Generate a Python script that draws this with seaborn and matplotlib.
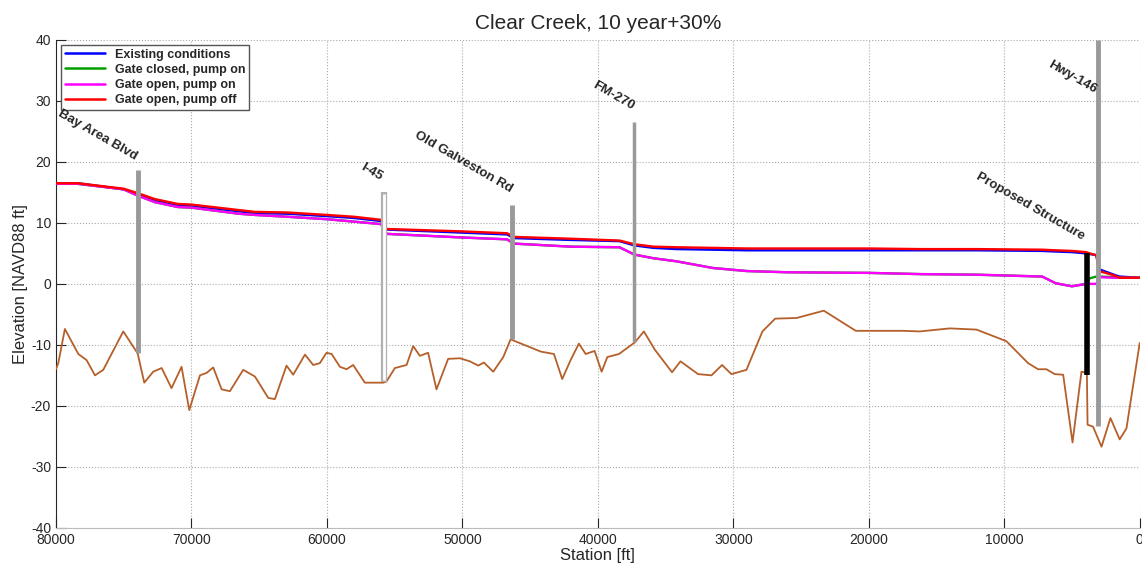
import numpy as np
import pandas as pd
import matplotlib.pyplot as plt
import seaborn as sns

# water surface profiles (station in ft, elevation in ft NAVD88)

ws_station = [80000, 78400, 75000, 74000, 72700, 71000, 70000, 66500, 65300, 62900,
              60000, 58000, 56000, 55600, 50000, 46700, 46200, 42000, 38400, 37300,
              35900, 34200, 31500, 29000, 26000, 20000, 16200, 12000, 7200, 6200,
              5000, 3950, 3700, 3200, 3000, 1900, 1500, 0]

existing = [16.5, 16.5, 15.5, 14.7, 13.7, 12.9, 12.8, 11.9, 11.6, 11.5,
            11.1, 10.8, 10.3, 8.9, 8.4, 8.1, 7.5, 7.2, 7.0, 6.3,
            5.9, 5.7, 5.6, 5.5, 5.5, 5.5, 5.5, 5.5, 5.4, 5.3,
            5.2, 5.0, 4.9, 4.7, 2.4, 1.5, 1.2, 1.0]

gate_closed_pump_on = [16.4, 16.4, 15.5, 14.5, 13.4, 12.6, 12.5, 11.5, 11.3, 11.0,
                       10.6, 10.2, 9.8, 8.2, 7.6, 7.3, 6.6, 6.1, 6.0, 4.8,
                       4.2, 3.7, 2.6, 2.1, 1.9, 1.8, 1.6, 1.5, 1.2, 0.1,
                       -0.4, 0.0, 0.9, 1.2, 1.2, 1.1, 1.0, 1.0]

gate_open_pump_on = [16.4, 16.4, 15.5, 14.5, 13.4, 12.6, 12.5, 11.5, 11.3, 11.0,
                     10.6, 10.2, 9.8, 8.2, 7.6, 7.3, 6.6, 6.1, 6.0, 4.8,
                     4.2, 3.7, 2.6, 2.1, 1.9, 1.8, 1.6, 1.5, 1.2, 0.1,
                     -0.4, 0.0, 0.0, 0.0, 1.1, 1.0, 1.0, 1.0]

gate_open_pump_off = [16.5, 16.5, 15.6, 14.9, 13.9, 13.1, 13.0, 12.1, 11.8, 11.7,
                      11.3, 11.0, 10.5, 9.0, 8.6, 8.3, 7.7, 7.4, 7.1, 6.5,
                      6.1, 6.0, 5.9, 5.8, 5.8, 5.8, 5.7, 5.7, 5.6, 5.5,
                      5.4, 5.2, 5.0, 4.7, 2.1, 1.4, 1.0, 1.0]

scenarios = ["Existing conditions", "Gate closed, pump on", "Gate open, pump on", "Gate open, pump off"]
scenario_colors = ["#0000ff", "#00a000", "#ff00ff", "#ff0000"]

# channel bed

bed_station = [80000, 79830, 79340, 78350, 77740, 77120, 76510, 75030, 73970, 73480,
               72820, 72200, 71470, 70730, 70160, 69370, 68880, 68390, 67770, 67160,
               66180, 65310, 64330, 63840, 62980, 62490, 61620, 61010, 60520, 60030,
               59650, 59040, 58550, 58060, 57200, 55840, 55600, 54980, 54120, 53630,
               53140, 52530, 51910, 51050, 50180, 49450, 48830, 48410, 47720, 46980,
               46440, 44220, 43240, 42630, 42010, 41400, 40900, 40240, 39720, 39300,
               38440, 37270, 36600, 35790, 34520, 33900, 32600, 31610, 30830, 30140,
               29030, 27850, 26910, 25340, 23320, 20960, 17470, 16240, 14020, 12050,
               9840, 8240, 7500, 6890, 6270, 5650, 4960, 4300, 3900, 3850,
               3450, 2820, 2160, 1480, 980, 0]

bed_elev = [-14.0, -13.0, -7.4, -11.5, -12.5, -15.0, -14.1, -7.8, -11.4, -16.2,
            -14.4, -13.8, -17.1, -13.6, -20.7, -15.0, -14.6, -13.7, -17.3, -17.6,
            -14.1, -15.2, -18.7, -18.9, -13.4, -14.9, -11.6, -13.3, -13.0, -11.3,
            -11.5, -13.6, -14.0, -13.3, -16.2, -16.2, -16.0, -13.8, -13.3, -10.2,
            -11.8, -11.3, -17.3, -12.3, -12.2, -12.7, -13.4, -12.9, -14.4, -12.0,
            -9.1, -11.1, -11.5, -15.6, -12.5, -9.8, -11.5, -11.0, -14.4, -12.0,
            -11.5, -9.6, -7.8, -10.8, -14.5, -12.7, -14.8, -15.0, -13.3, -14.8,
            -14.1, -7.8, -5.7, -5.6, -4.4, -7.7, -7.7, -7.8, -7.3, -7.5,
            -9.4, -13.0, -14.0, -14.0, -14.8, -14.9, -26.0, -14.4, -14.6, -23.1,
            -23.4, -26.7, -22.0, -25.5, -23.7, -9.7]

# bridges and structure

bridge_names = ["Bay Area Blvd", "I-45", "Old Galveston Rd", "FM-270", "Hwy-146"]
bridge_station = [73950, 55750, 46350, 37300, 3100]
bridge_top = [18.7, 15.1, 13.0, 26.6, 40.0]
bridge_bottom = [-11.3, -16.1, -9.1, -9.6, -23.3]

structure_station = 3900
structure_top = 5.1
structure_bottom = -14.9

label_text = ["Bay Area Blvd", "I-45", "Old Galveston Rd", "FM-270", "Hwy-146", "Proposed Structure"]
label_station = [74300, 56200, 46600, 37600, 3500, 4400]
label_elev = [19.9, 16.6, 14.6, 28.1, 30.9, 6.8]

# build long table for seaborn

ws = pd.DataFrame({
    "Station": ws_station * 4,
    "Elevation": existing + gate_closed_pump_on + gate_open_pump_on + gate_open_pump_off,
    "Scenario": np.repeat(scenarios, len(ws_station)),
})
bed = pd.DataFrame({"Station": bed_station, "Elevation": bed_elev})

sns.set_style("ticks")
plt.rcParams["font.family"] = ["Liberation Sans", "DejaVu Sans"]
plt.rcParams["axes.unicode_minus"] = False

fig, ax = plt.subplots(figsize=(11.42, 5.70), dpi=100)
fig.subplots_adjust(left=0.049, right=0.998, top=0.93, bottom=0.074)

sns.lineplot(data=bed, x="Station", y="Elevation", color="#b5602a", lw=1.3,
             sort=False, estimator=None, ax=ax, zorder=3)
sns.lineplot(data=ws, x="Station", y="Elevation", hue="Scenario", hue_order=scenarios,
             palette=dict(zip(scenarios, scenario_colors)), lw=1.7,
             sort=False, estimator=None, ax=ax, zorder=4)

# bridges
for name, s, top, bot in zip(bridge_names, bridge_station, bridge_top, bridge_bottom):
    if name == "I-45":
        ax.vlines(s, bot, top, color="#b0b0b0", lw=4.5, zorder=5)
        ax.vlines(s, bot + 0.3, top - 0.3, color="white", lw=2.0, zorder=6)
    elif name == "FM-270":
        ax.vlines(s, bot, top, color="#999999", lw=2.5, zorder=5)
    else:
        ax.vlines(s, bot, top, color="#999999", lw=3.5, zorder=5)

ax.vlines(structure_station, structure_bottom, structure_top, color="black", lw=4, zorder=7)

for t, s, e in zip(label_text, label_station, label_elev):
    ax.text(s, e, t, rotation=-30, rotation_mode="anchor", ha="right", va="bottom",
            fontsize=9.5, fontweight="bold", zorder=8)

ax.set_xlim(80000, 0)
ax.set_ylim(-40, 40)
ax.set_xticks(range(0, 80001, 10000))
ax.set_yticks(range(-40, 41, 10))
ax.grid(True, linestyle=":", color="#aaaaaa", lw=0.8)
ax.tick_params(direction="in", length=7, labelsize=10)
sns.despine(ax=ax, top=True, right=True)
ax.spines["bottom"].set_color("#bbbbbb")

ax.set_title("Clear Creek, 10 year+30%", fontsize=15, pad=8)
ax.set_xlabel("Station [ft]", fontsize=12, labelpad=1)
ax.set_ylabel("Elevation [NAVD88 ft]", fontsize=12, labelpad=2)

leg = ax.legend(loc="upper left", prop={"weight": "bold", "size": 9}, handlelength=3.2,
                fancybox=False, framealpha=1, edgecolor="#555555", borderaxespad=0.4,
                borderpad=0.3, labelspacing=0.25)
leg.set_title(None)
for line in leg.get_lines():
    line.set_linewidth(1.8)

plt.savefig("out.png", dpi=100)
